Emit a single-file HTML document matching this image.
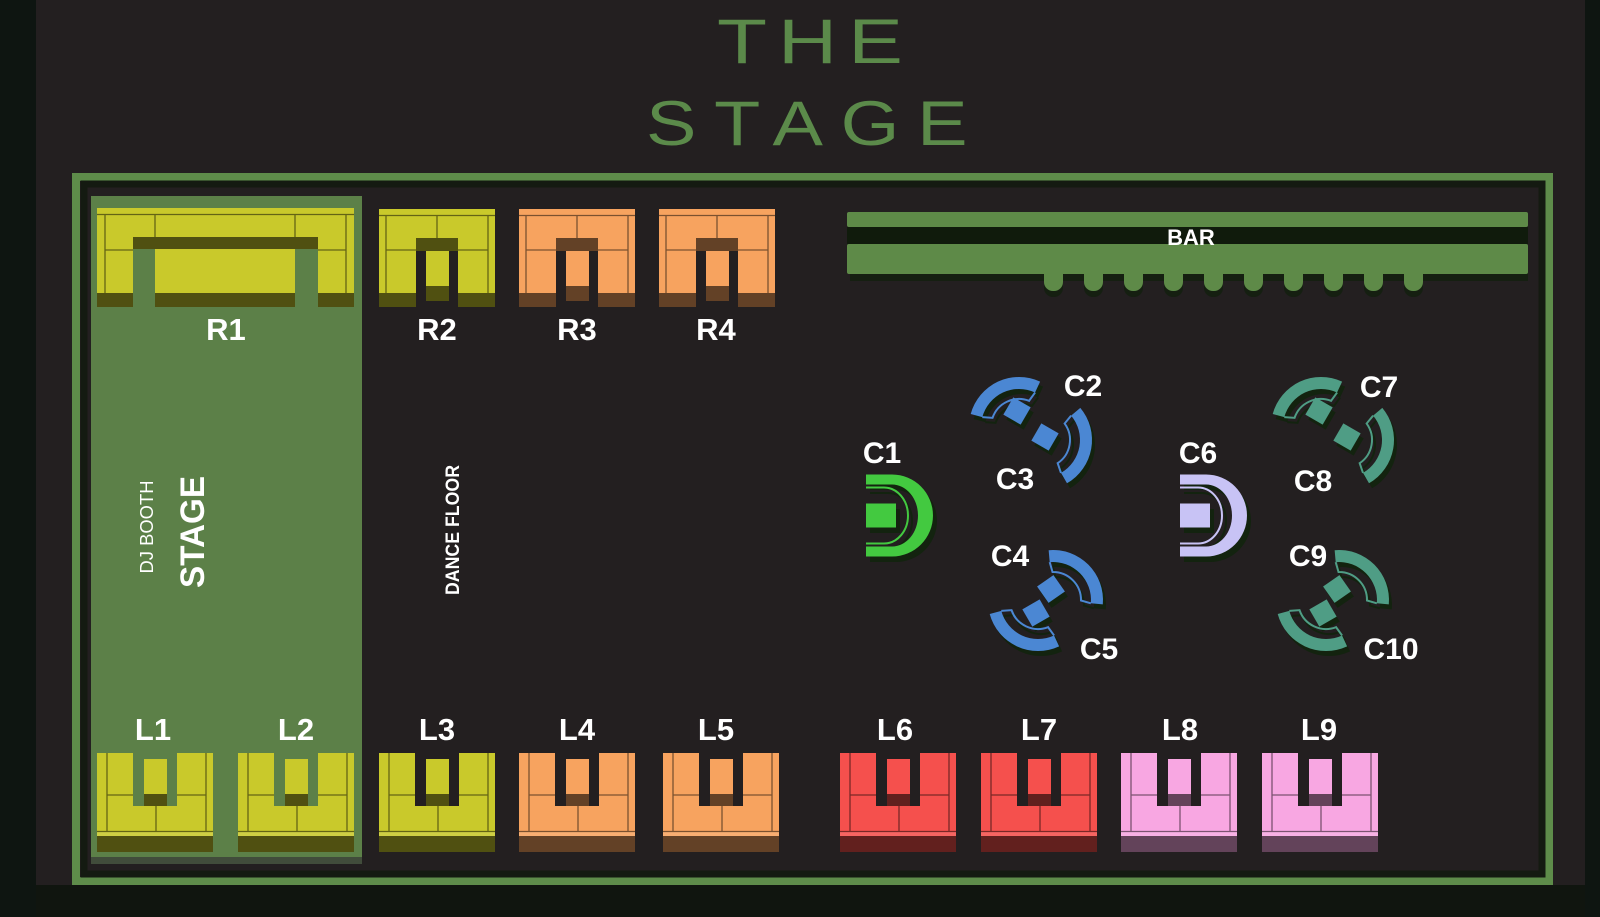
<!DOCTYPE html>
<html><head><meta charset="utf-8"><style>
html,body{margin:0;padding:0;background:#231f20;}
svg{display:block;}
.lb{font-family:"Liberation Sans",Arial,sans-serif;font-weight:bold;fill:#ffffff;text-anchor:middle;}
</style></head><body>
<svg width="1600" height="917" viewBox="0 0 1600 917" xmlns="http://www.w3.org/2000/svg">
<defs>
  <g id="rt">
    <path fill="currentColor" d="M0 0H116V98H79V42H37V98H0Z"/>
    <rect x="47" y="42" width="23" height="50" fill="currentColor"/>
    <g fill="#000" fill-opacity="0.6">
      <rect x="0" y="84" width="37" height="14"/>
      <rect x="79" y="84" width="37" height="14"/>
      <rect x="37" y="29" width="42" height="13"/>
      <rect x="47" y="77" width="23" height="15"/>
    </g>
    <path d="M0 6.5H116M7 6.5V84M109 6.5V84M58 6.5V29M7 41H37M79 41H109" stroke="#000" stroke-opacity="0.5" stroke-width="1.3" fill="none"/>
  </g>
  <g id="r1">
    <path fill="currentColor" d="M0 0H257V99H221V41H198V99H58V41H36V99H0Z"/>
    <g fill="#000" fill-opacity="0.6">
      <rect x="0" y="85" width="36" height="14"/>
      <rect x="221" y="85" width="36" height="14"/>
      <rect x="36" y="29" width="185" height="12"/>
      <rect x="58" y="85" width="140" height="14"/>
    </g>
    <path d="M0 6.5H257M8 6.5V85M249 6.5V85M58 6.5V29M198 6.5V29M8 42H36M221 42H249" stroke="#000" stroke-opacity="0.5" stroke-width="1.3" fill="none"/>
  </g>
  <g id="lt">
    <path fill="currentColor" d="M0 0H36V53H80V0H116V99H0Z"/>
    <rect x="47" y="6" width="23" height="47" fill="currentColor"/>
    <rect x="0" y="79" width="116" height="4" fill="#fff" fill-opacity="0.12"/>
    <g fill="#000" fill-opacity="0.6">
      <rect x="0" y="83" width="116" height="16"/>
      <rect x="47" y="41" width="23" height="12"/>
    </g>
    <path d="M10 0V78M109 0V78M10 42H36M80 42H109M59 53V78M0 78.5H116" stroke="#000" stroke-opacity="0.5" stroke-width="1.3" fill="none"/>
  </g>
  <g id="sec">
    <path d="M32.14 -38.30A50 50 0 0 1 32.14 38.30L24.43 29.11A38 38 0 0 0 24.43 -29.11Z" fill="currentColor"/>
    <path d="M24.43 -29.11L19.45 -20.14A28 28 0 0 1 19.45 20.14L24.43 29.11" fill="none" stroke="currentColor" stroke-width="2"/>
  </g>
  <g id="dsh">
    <path d="M0 -41H26A41 41 0 0 1 26 41H0V31H26A26 31 0 0 0 26 -31H0Z" fill="currentColor"/>
    <path d="M0 -28H18A24 28 0 0 1 18 28H0" fill="none" stroke="currentColor" stroke-width="2"/>
    <rect x="0" y="-12" width="30" height="24" fill="currentColor"/>
  </g>
  <rect id="sq" x="-10" y="-10" width="20" height="20"/>
</defs>

<!-- background -->
<rect x="0" y="0" width="1600" height="917" fill="#231f20"/>
<rect x="0" y="0" width="36" height="917" fill="#0e1511"/>
<rect x="1585" y="0" width="15" height="917" fill="#0e1511"/>
<rect x="36" y="885" width="1549" height="32" fill="#10150f"/>

<!-- title -->
<g font-family="'Liberation Sans',Arial,sans-serif" fill="#5b8a4a" font-size="63">
  <text transform="translate(717,63) scale(1.3,1)" x="0" y="0" textLength="143" lengthAdjust="spacing">THE</text>
  <text transform="translate(646,145) scale(1.2,1)" x="0" y="0" textLength="268" lengthAdjust="spacing">STAGE</text>
</g>

<!-- outer border -->
<rect x="76" y="177" width="1473" height="704" fill="none" stroke="#5e8c4a" stroke-width="8"/>
<rect x="84" y="184" width="1458" height="690" fill="none" stroke="#141a11" stroke-width="7"/>

<!-- stage area -->
<rect x="91" y="196" width="271" height="662" fill="#5c8048"/>
<rect x="91" y="857" width="271" height="7" fill="#414c3b"/>

<!-- vertical texts -->
<text transform="translate(153,527) rotate(-90)" font-family="'Liberation Sans',Arial,sans-serif" font-size="18" fill="#fff" text-anchor="middle" textLength="93" lengthAdjust="spacingAndGlyphs">DJ BOOTH</text>
<text transform="translate(204,532) rotate(-90)" font-family="'Liberation Sans',Arial,sans-serif" font-weight="bold" font-size="34" fill="#fff" text-anchor="middle" textLength="112" lengthAdjust="spacingAndGlyphs">STAGE</text>
<text transform="translate(459,530) rotate(-90)" font-family="'Liberation Sans',Arial,sans-serif" font-weight="bold" font-size="19" fill="#fff" text-anchor="middle" textLength="130" lengthAdjust="spacingAndGlyphs">DANCE FLOOR</text>

<!-- top tables -->
<use href="#r1" x="97" y="208" color="#c9c92b"/>
<use href="#rt" x="379" y="209" color="#c9c92b"/>
<use href="#rt" x="519" y="209" color="#f7a35f"/>
<use href="#rt" x="659" y="209" color="#f7a35f"/>

<!-- bottom tables -->
<use href="#lt" x="97" y="753" color="#c9c92b"/>
<use href="#lt" x="238" y="753" color="#c9c92b"/>
<use href="#lt" x="379" y="753" color="#c9c92b"/>
<use href="#lt" x="519" y="753" color="#f7a35f"/>
<use href="#lt" x="663" y="753" color="#f7a35f"/>
<use href="#lt" x="840" y="753" color="#f5504d"/>
<use href="#lt" x="981" y="753" color="#f5504d"/>
<use href="#lt" x="1121" y="753" color="#f8a7e2"/>
<use href="#lt" x="1262" y="753" color="#f8a7e2"/>

<!-- bar -->
<g fill="#151f11">
  <rect x="850" y="272" width="678" height="9"/>
  <rect x="1044" y="270" width="19" height="27" rx="9"/>
  <rect x="1084" y="270" width="19" height="27" rx="9"/>
  <rect x="1124" y="270" width="19" height="27" rx="9"/>
  <rect x="1164" y="270" width="19" height="27" rx="9"/>
  <rect x="1204" y="270" width="19" height="27" rx="9"/>
  <rect x="1244" y="270" width="19" height="27" rx="9"/>
  <rect x="1284" y="270" width="19" height="27" rx="9"/>
  <rect x="1324" y="270" width="19" height="27" rx="9"/>
  <rect x="1364" y="270" width="19" height="27" rx="9"/>
  <rect x="1404" y="270" width="19" height="27" rx="9"/>
</g>
<rect x="847" y="227" width="681" height="17" fill="#101b0c"/>
<g fill="#5e8a48">
  <rect x="847" y="212" width="681" height="15" rx="2"/>
  <rect x="847" y="244" width="681" height="30" rx="2"/>
  <rect x="1044" y="262" width="19" height="29" rx="9"/>
  <rect x="1084" y="262" width="19" height="29" rx="9"/>
  <rect x="1124" y="262" width="19" height="29" rx="9"/>
  <rect x="1164" y="262" width="19" height="29" rx="9"/>
  <rect x="1204" y="262" width="19" height="29" rx="9"/>
  <rect x="1244" y="262" width="19" height="29" rx="9"/>
  <rect x="1284" y="262" width="19" height="29" rx="9"/>
  <rect x="1324" y="262" width="19" height="29" rx="9"/>
  <rect x="1364" y="262" width="19" height="29" rx="9"/>
  <rect x="1404" y="262" width="19" height="29" rx="9"/>
</g>
<text x="1191" y="245" class="lb" font-size="22">BAR</text>

<!-- chair shadows -->
<g color="#13230f" fill="#13230f">
  <use href="#dsh" transform="translate(870,521)"/>
  <use href="#dsh" transform="translate(1184,521)"/>
  <use href="#sec" transform="translate(1022,432) rotate(-115)"/>
  <use href="#sec" transform="translate(1045,445) rotate(10)"/>
  <use href="#sec" transform="translate(1056,605) rotate(-45)"/>
  <use href="#sec" transform="translate(1041,606) rotate(115)"/>
  <use href="#sec" transform="translate(1324,432) rotate(-115)"/>
  <use href="#sec" transform="translate(1347,445) rotate(10)"/>
  <use href="#sec" transform="translate(1342,605) rotate(-45)"/>
  <use href="#sec" transform="translate(1329,606) rotate(115)"/>
  <use href="#sq" transform="translate(1020,416) rotate(30)"/>
  <use href="#sq" transform="translate(1048,442) rotate(30)"/>
  <use href="#sq" transform="translate(1054,594) rotate(-35)"/>
  <use href="#sq" transform="translate(1039,618) rotate(-30)"/>
  <use href="#sq" transform="translate(1322,416) rotate(30)"/>
  <use href="#sq" transform="translate(1350,442) rotate(30)"/>
  <use href="#sq" transform="translate(1340,594) rotate(-35)"/>
  <use href="#sq" transform="translate(1326,618) rotate(-30)"/>
</g>

<!-- chairs -->
<use href="#dsh" transform="translate(866,515.5)" color="#43c940" fill="#43c940"/>
<use href="#dsh" transform="translate(1180,515.5)" color="#c8c3f5" fill="#c8c3f5"/>

<g color="#4b87d3" fill="#4b87d3">
  <use href="#sec" transform="translate(1019,427) rotate(-115)"/>
  <use href="#sec" transform="translate(1042,440) rotate(10)"/>
  <use href="#sec" transform="translate(1053,600) rotate(-45)"/>
  <use href="#sec" transform="translate(1038,601) rotate(115)"/>
  <use href="#sq" transform="translate(1017,411) rotate(30)"/>
  <use href="#sq" transform="translate(1045,437) rotate(30)"/>
  <use href="#sq" transform="translate(1051,589) rotate(-35)"/>
  <use href="#sq" transform="translate(1036,613) rotate(-30)"/>
</g>
<g color="#4f9d85" fill="#4f9d85">
  <use href="#sec" transform="translate(1321,427) rotate(-115)"/>
  <use href="#sec" transform="translate(1344,440) rotate(10)"/>
  <use href="#sec" transform="translate(1339,600) rotate(-45)"/>
  <use href="#sec" transform="translate(1326,601) rotate(115)"/>
  <use href="#sq" transform="translate(1319,411) rotate(30)"/>
  <use href="#sq" transform="translate(1347,437) rotate(30)"/>
  <use href="#sq" transform="translate(1337,589) rotate(-35)"/>
  <use href="#sq" transform="translate(1323,613) rotate(-30)"/>
</g>

<!-- labels -->
<g class="lb" font-size="31">
  <text x="226" y="340">R1</text>
  <text x="437" y="340">R2</text>
  <text x="577" y="340">R3</text>
  <text x="716" y="340">R4</text>
  <text x="153" y="740">L1</text>
  <text x="296" y="740">L2</text>
  <text x="437" y="740">L3</text>
  <text x="577" y="740">L4</text>
  <text x="716" y="740">L5</text>
  <text x="895" y="740">L6</text>
  <text x="1039" y="740">L7</text>
  <text x="1180" y="740">L8</text>
  <text x="1319" y="740">L9</text>
</g>
<g class="lb" font-size="30">
  <text x="882" y="463">C1</text>
  <text x="1083" y="396">C2</text>
  <text x="1015" y="489">C3</text>
  <text x="1010" y="566">C4</text>
  <text x="1099" y="659">C5</text>
  <text x="1198" y="463">C6</text>
  <text x="1379" y="397">C7</text>
  <text x="1313" y="491">C8</text>
  <text x="1308" y="566">C9</text>
  <text x="1391" y="659">C10</text>
</g>
</svg>
</body></html>
